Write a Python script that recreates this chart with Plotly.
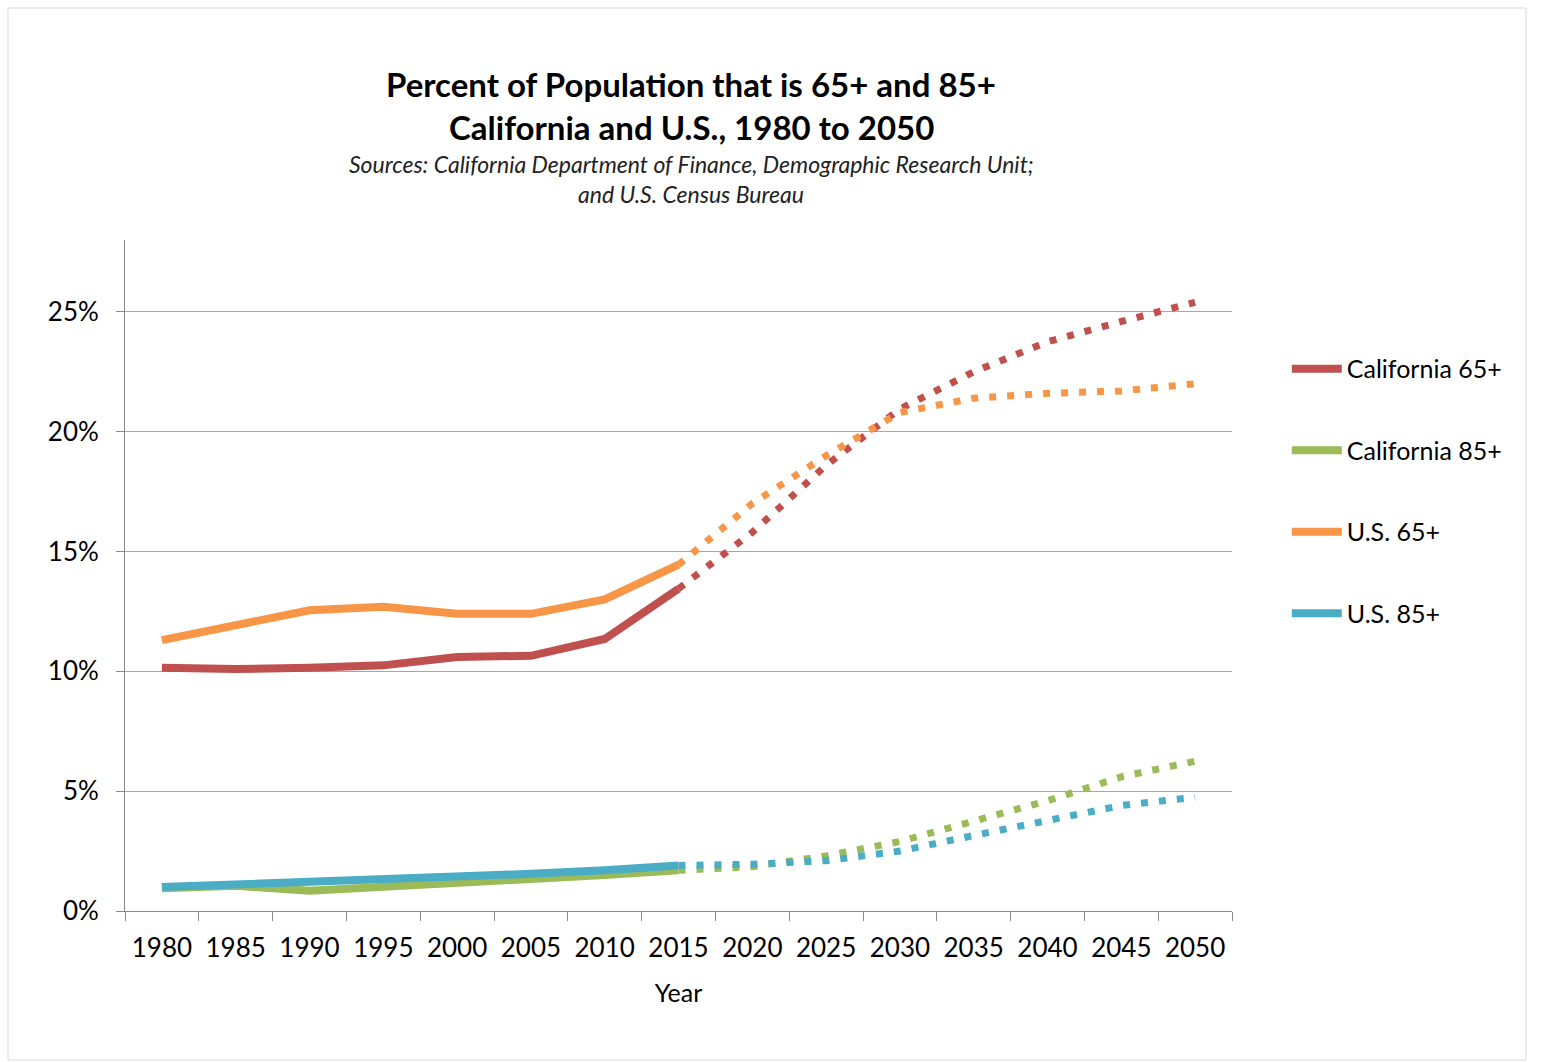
import plotly.graph_objects as go

years = ["1980", "1985", "1990", "1995", "2000", "2005", "2010", "2015",
         "2020", "2025", "2030", "2035", "2040", "2045", "2050"]
hist_years = years[:8]
proj_years = years[7:]

ca65_hist = [10.15, 10.1, 10.15, 10.25, 10.6, 10.65, 11.35, 13.45]
ca65_proj = [13.45, 15.8, 18.6, 20.95, 22.5, 23.75, 24.6, 25.4]
ca85_hist = [0.95, 1.05, 0.85, 1.0, 1.2, 1.3, 1.5, 1.7]
ca85_proj = [1.7, 1.85, 2.3, 2.9, 3.75, 4.6, 5.6, 6.25]
us65_hist = [11.3, 11.9, 12.55, 12.7, 12.4, 12.4, 13.0, 14.45]
us65_proj = [14.45, 17.0, 19.0, 20.8, 21.4, 21.6, 21.7, 22.0]
us85_hist = [1.0, 1.1, 1.2, 1.3, 1.45, 1.55, 1.7, 1.9]
us85_proj = [1.9, 1.95, 2.1, 2.5, 3.15, 3.8, 4.4, 4.75]

names = ["California 65+", "California 85+", "U.S. 65+", "U.S. 85+"]
colors = ["#C0504D", "#9BBB59", "#F79646", "#4BACC6"]
hist = [ca65_hist, ca85_hist, us65_hist, us85_hist]
proj = [ca65_proj, ca85_proj, us65_proj, us85_proj]

FONT = "Lato"
fig = go.Figure()
for i in range(4):
    fig.add_trace(go.Scatter(
        x=hist_years, y=hist[i], mode="lines", name=names[i],
        line=dict(color=colors[i], width=8), legendgroup=names[i],
        legendrank=i + 1, showlegend=True))
for i in range(4):
    fig.add_trace(go.Scatter(
        x=proj_years, y=proj[i], mode="lines", name=names[i],
        line=dict(color=colors[i], width=7, dash="7px,11px"),
        legendgroup=names[i], showlegend=False))

fig.update_layout(
    width=1553, height=1062,
    margin=dict(l=125, r=321, t=240, b=151),
    paper_bgcolor="white", plot_bgcolor="white",
    font=dict(family=FONT, size=25, color="#000000"),
    showlegend=True,
    legend=dict(x=1.0495, y=0.626, xanchor="left", yanchor="middle",
                traceorder="grouped", tracegroupgap=46, itemwidth=50,
                font=dict(family=FONT, size=25, color="#000000"),
                bgcolor="rgba(0,0,0,0)"),
    xaxis=dict(type="category", categoryorder="array", categoryarray=years,
               tickson="boundaries", ticks="outside", ticklen=9,
               tickcolor="#888888", showline=True, linecolor="#888888",
               linewidth=1, showgrid=False, zeroline=False,
               ticklabelstandoff=14,
               tickfont=dict(family=FONT, size=26), range=[-0.5, 14.5],
               title=dict(text="Year", font=dict(family=FONT, size=25),
                          standoff=22)),
    yaxis=dict(range=[0, 28], tickvals=[0, 5, 10, 15, 20, 25],
               ticktext=["0%", "5%", "10%", "15%", "20%", "25%"],
               ticks="outside", ticklen=8, tickcolor="#888888",
               showline=True, linecolor="#888888", linewidth=1,
               showgrid=True, gridcolor="#A6A6A6", gridwidth=1,
               zeroline=False, ticklabelstandoff=12,
               tickfont=dict(family=FONT, size=26)),
)

TX = 0.5115
fig.add_annotation(text="<b>Percent of Population that is 65+ and 85+</b>",
                   xref="paper", yref="paper", x=TX, y=(911 - 84) / 671,
                   xanchor="center", yanchor="middle", showarrow=False,
                   font=dict(family=FONT, size=33, color="#000000"))
fig.add_annotation(text="<b>California and U.S., 1980 to 2050</b>",
                   xref="paper", yref="paper", x=TX, y=(911 - 127) / 671,
                   xanchor="center", yanchor="middle", showarrow=False,
                   font=dict(family=FONT, size=33, color="#000000"))
fig.add_annotation(text="<i>Sources: California Department of Finance, Demographic Research Unit;</i>",
                   xref="paper", yref="paper", x=TX, y=(911 - 164) / 671,
                   xanchor="center", yanchor="middle", showarrow=False,
                   font=dict(family=FONT, size=23, color="#222222"))
fig.add_annotation(text="<i>and U.S. Census Bureau</i>",
                   xref="paper", yref="paper", x=TX, y=(911 - 194) / 671,
                   xanchor="center", yanchor="middle", showarrow=False,
                   font=dict(family=FONT, size=23, color="#222222"))

fig.add_shape(type="rect", xref="paper", yref="paper",
              x0=(8 - 125) / 1107, x1=(1526 - 125) / 1107,
              y0=(911 - 1060) / 671, y1=(911 - 8) / 671,
              line=dict(color="#D9D9D9", width=1), layer="below")

fig.write_html("out.html")
